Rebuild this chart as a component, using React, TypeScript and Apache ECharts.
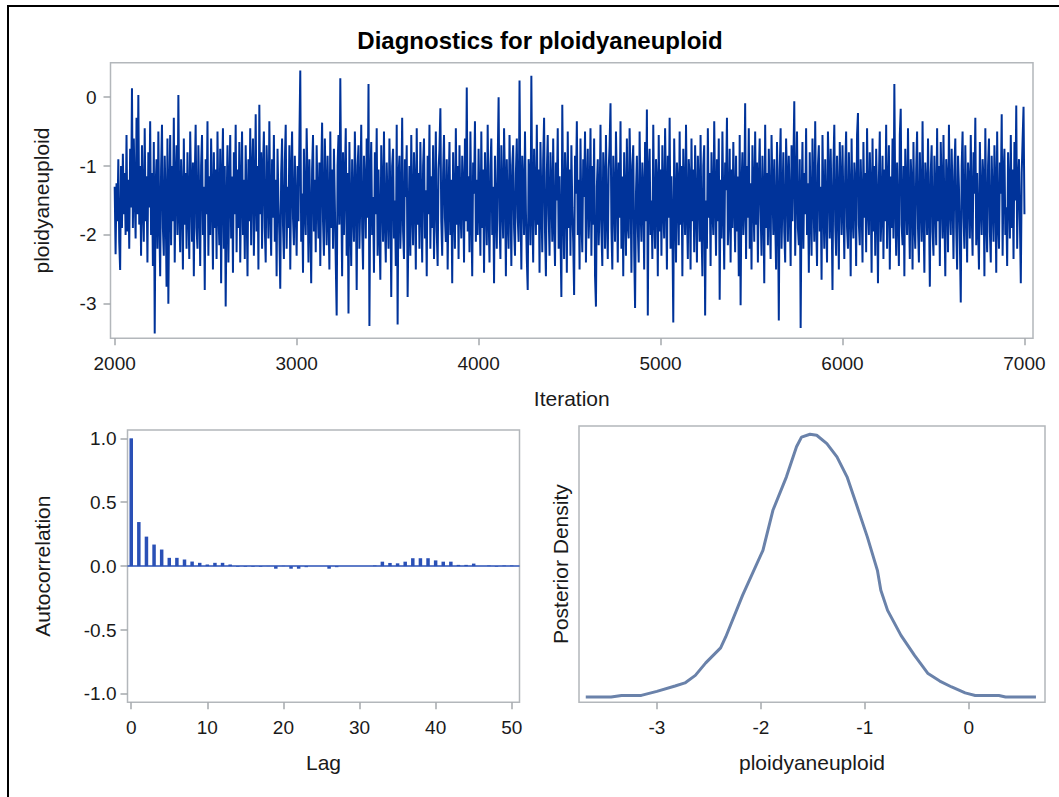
import React, { useEffect, useRef } from "react";
import * as echarts from "echarts";

// ---- text ----
const TITLE = "Diagnostics for ploidyaneuploid";
const PARAM = "ploidyaneuploid";

// ---- trace: one value every ITER_STEP iterations starting at ITER_START (20 per row = 100 iterations) ----
const ITER_START = 2000;
const ITER_STEP = 5;
const traceValues = [
  -1.3, -2.28, -1.25, -1.8, -0.9, -2.1, -2.51, -1.0, -1.9, -0.82, -1.7, -1.1, -2.0, -0.55, -1.95, -1.2, -2.2, -0.75, -1.6, 0.13,
  -1.9, -0.6, -1.4, -2.05, -0.3, -1.7, 0.03, -1.85, -1.0, -2.3, -0.7, -1.55, -2.1, -0.45, -1.8, -1.15, -2.4, -0.8, -1.6, -0.35,
  -2.0, -1.1, -2.45, -0.65, -3.43, -1.3, -0.9, -2.2, -0.5, -1.75, -2.6, -1.05, -0.4, -1.9, -2.3, -0.85, -1.5, -2.75, -0.6, -3.0,
  -1.4, -0.55, -2.15, -1.0, -1.8, -0.3, -2.4, -1.2, -0.7, -2.0, 0.03, -1.65, -2.25, -0.9, -1.4, -2.5, -0.6, -1.85, -1.1, -2.2,
  -0.8, -1.6, -2.35, -0.5, -1.3, -2.1, -0.95, -2.6, -1.2, -0.4, -1.9, -2.2, -0.7, -1.5, -2.45, -1.0, -0.55, -2.0, -1.3, -2.8,
  -0.9, -1.7, -0.35, -2.3, -1.15, -2.0, -0.6, -1.45, -2.5, -0.8, -1.9, -1.05, -2.35, -0.5, -1.6, -2.15, -0.75, -2.7, -1.25, -0.45,
  -2.2, -1.0, -3.04, -1.6, -0.7, -2.4, -1.3, -0.55, -2.05, -1.15, -2.55, -0.8, -1.7, -0.4, -2.25, -1.05, -1.9, -0.65, -2.4, -1.35,
  -0.5, -2.0, -1.2, -2.35, -0.7, -1.55, -2.6, -0.9, -1.8, -0.45, -2.15, -1.1, -0.6, -2.3, -1.4, -0.25, -1.95, -1.0, -2.5, -0.11,
  -1.7, -0.8, -2.2, -1.05, -0.5, -1.9, -2.4, -0.7, -1.3, -2.05, -0.35, -1.6, -2.3, -0.9, -1.75, -0.55, -2.1, -1.2, -2.6, -0.75,
  -1.5, -2.0, -2.78, -1.1, -0.6, -1.85, -2.35, -0.95, -0.4, -2.2, -1.3, -1.9, -0.7, -2.5, -1.15, -0.5, -1.75, -2.15, -0.85, -1.6,
  -2.3, -1.0, -1.8, -0.65, 0.386, -2.1, -1.4, -2.55, -0.75, -1.6, -2.0, -0.45, -1.25, -2.4, -0.9, -1.7, -2.7, -1.05, -0.55, -1.95,
  -1.2, -2.25, -0.7, -1.5, -2.05, -0.95, -2.45, -1.1, -0.37, -1.8, -2.3, -0.6, -1.35, -2.15, -0.85, -1.65, -2.5, -0.5, -1.9, -1.05,
  -2.2, -0.75, -1.55, -2.4, -3.17, -1.0, -0.55, -1.85, 0.275, -1.4, -2.6, -0.8, -2.0, -1.2, -0.45, -2.3, -1.1, -3.14, -0.65, -1.7,
  -2.45, -0.9, -1.6, -2.1, -0.5, -1.35, -2.8, -1.0, -0.7, -2.2, -1.5, -0.4, -1.9, -2.5, -0.85, -1.25, -2.05, -0.6, -1.75, 0.19,
  -3.32, -1.2, -0.65, -2.0, -1.45, -2.55, -0.8, -1.7, -0.45, -2.3, -1.05, -1.9, -2.65, -0.7, -1.35, -2.1, -0.5, -1.8, -2.4, -0.95,
  -1.6, -2.2, -0.6, -1.4, -2.9, -1.0, -0.75, -2.05, -1.5, -2.45, -0.4, -3.3, -1.15, -0.85, -2.2, -1.6, -0.3, -1.95, -2.35, -0.9,
  -1.45, -0.7, -2.9, -1.8, -1.0, -2.3, -0.55, -1.6, -2.15, -0.8, -1.3, -2.5, -0.45, -1.85, -1.1, -2.2, -0.65, -1.5, -2.4, -1.0,
  -0.6, -2.05, -1.35, -2.6, -0.85, -1.7, -0.4, -2.2, -1.15, -1.9, -0.7, -2.35, -1.5, -0.5, -1.95, -2.45, -1.05, -0.75, -0.16, -1.8,
  -2.3, -1.1, -0.55, -1.75, -2.1, -0.9, -2.5, -1.4, -0.65, -2.0, -1.2, -2.7, -0.8, -1.55, -2.2, -0.45, -1.85, -1.0, -2.35, -0.7,
  -1.6, -2.05, -0.85, -1.3, -2.4, -0.6, -1.8, 0.14, -1.95, -1.15, -2.25, -0.5, -1.65, -2.6, -0.95, -1.4, -0.35, -2.1, -1.2, -2.0,
  -0.75, -1.55, -2.3, -0.5, -1.9, -1.05, -2.55, -0.8, -1.45, -2.15, -0.4, -1.7, -2.4, -1.0, -0.6, -2.0, -1.3, -2.7, -0.85, -1.6,
  -2.2, -0.95, 0.0, -1.8, -2.35, -0.7, -1.5, -2.05, -0.45, -1.25, -2.6, -0.9, -1.7, -2.2, -0.55, -1.4, -2.45, -1.0, -0.7, -1.9,
  -2.3, -1.1, -0.6, -1.75, -2.1, 0.24, -1.5, -2.5, -0.85, -1.3, -2.0, -0.5, -1.65, -2.35, -2.8, -0.9, -1.2, -2.15, 0.31, -1.6,
  -2.4, -0.75, -1.45, -2.0, -0.4, -1.85, -1.05, -2.55, -0.65, -1.5, -2.25, -0.9, -0.3, -1.95, -2.6, -1.1, -0.55, -1.7, -2.3, -0.8,
  -1.35, -2.1, -0.6, -1.8, -2.45, -0.95, -1.5, -0.45, -2.2, -1.15, -2.0, -2.9, -0.11, -1.6, -2.35, -0.8, -1.25, -2.55, -0.5, -1.9,
  -1.05, -2.3, -0.7, -1.6, -2.1, -2.87, -0.85, -1.4, -0.35, -2.0, -1.2, -2.5, -0.6, -1.75, -2.25, -0.9, -1.45, -0.5, -2.4, -1.3,
  -0.75, -2.05, -1.55, -0.45, -2.3, -1.0, -1.85, -0.6, -2.6, -3.04, -1.3, -0.9, -2.15, -1.6, -0.4, -1.95, -2.45, -0.8, -1.2, -2.2,
  -0.55, -1.7, -2.35, -1.05, -0.7, -0.09, -1.9, -2.5, -0.85, -1.45, -2.1, -0.5, -1.3, -2.4, -0.95, -1.75, -0.35, -2.2, -1.15, -2.6,
  -0.8, -1.5, -2.3, -0.6, -1.85, -2.05, -0.45, -1.25, -2.55, -1.0, -0.7, -2.2, -3.06, -1.4, -0.85, -1.9, -2.4, -0.5, -1.6, -2.1,
  -0.95, -1.35, -2.5, -0.65, -1.8, -0.18, -3.17, -1.1, -0.75, -2.0, -1.5, -2.35, -0.4, -1.7, -2.2, -0.9, -1.25, -2.6, -0.55, -1.95,
  -1.05, -2.3, -0.7, -1.6, -2.05, -0.45, -1.4, -2.5, -0.85, -1.75, -0.3, -2.2, -1.15, -1.9, -3.27, -0.6, -1.5, -2.4, -0.95, -1.3,
  -2.15, -0.5, -1.85, -1.0, -2.6, -0.75, -1.45, -2.0, -0.4, -1.65, -2.35, -0.9, -1.2, -2.5, -0.6, -1.8, -1.05, -2.25, -0.7, -1.55,
  -2.4, -0.85, -1.3, -2.1, -0.55, -1.9, -2.6, -1.0, -0.7, -3.17, -1.5, -2.2, -0.45, -1.75, -1.1, -2.45, -0.8, -1.6, -2.0, -0.35,
  -1.45, -2.3, -0.9, -1.8, -0.6, -2.94, -1.2, -2.05, -0.5, -1.55, -2.5, -0.95, -1.35, -0.3, -2.15, -1.7, -0.75, -2.4, -1.05, -1.9,
  -0.65, -1.5, -2.25, -0.85, -1.95, -1.15, -2.6, -0.55, -3.02, -1.3, -0.8, -2.0, -1.6, -0.09, -2.35, -1.0, -1.75, -0.45, -2.2, -1.25,
  -2.5, -0.7, -1.4, -2.1, -0.5, -1.85, -0.95, -2.4, -1.2, -0.6, -1.65, -2.3, -0.85, -1.5, -2.7, -0.4, -1.9, -1.1, -2.15, -0.75,
  -1.6, -2.35, -0.55, -1.3, -2.0, -0.9, -1.75, -2.5, -0.65, -1.45, -3.24, -1.05, -0.45, -2.2, -1.5, -0.8, -1.95, -2.4, -0.6, -1.2,
  -2.1, -0.85, -1.55, -2.45, -0.7, -1.8, -1.0, -0.06, -2.3, -1.35, -0.5, -1.9, -2.15, -0.9, -3.35, -1.5, -0.65, -2.2, -1.1, -1.7,
  -0.45, -2.0, -1.25, -2.55, -0.8, -1.6, -2.3, -0.6, -1.4, -2.1, -0.35, -1.75, -2.45, -1.0, -0.7, -1.95, -1.3, -2.65, -0.55, -1.5,
  -2.2, -0.9, -1.7, -2.4, -0.5, -1.15, -2.05, -0.75, -1.6, -2.8, -1.0, -0.4, -1.85, -2.3, -0.85, -1.45, -2.5, -0.65, -1.3, -2.0,
  -0.7, -1.55, -2.35, -1.05, -0.5, -1.9, -2.2, -0.8, -1.4, -2.6, -0.6, -1.7, -2.05, -0.95, -1.25, -2.45, -0.55, -0.23, -1.85, -2.15,
  -0.9, -1.5, -2.4, -0.65, -1.75, -1.1, -2.25, -0.45, -1.6, -2.0, -0.8, -1.35, -2.55, -0.6, -1.95, -1.0, -2.3, -0.75, -1.45, -2.7,
  -1.2, -0.5, -2.1, -1.65, -0.85, -2.35, -1.05, -1.8, -0.4, -2.2, -1.4, -0.7, -2.5, -1.15, -1.9, -0.6, -2.05, 0.19, -1.5, -2.3,
  -0.95, -1.7, -2.45, -0.55, -0.17, -1.85, -2.15, -1.0, -2.6, -0.75, -1.4, -2.0, -0.45, -1.6, -2.35, -0.9, -1.25, -2.5, -0.65, -1.8,
  -2.2, -1.05, -0.5, -1.9, -2.4, -0.8, -1.45, -2.1, -0.35, -1.7, -2.55, -0.95, -1.3, -2.0, -0.6, -1.55, -2.75, -1.1, -0.7, -1.95,
  -2.3, -0.85, -1.5, -2.15, -0.45, -1.8, -1.0, -2.45, -0.65, -1.35, -2.05, -0.55, -1.7, -2.6, -0.9, -1.2, -2.25, -0.4, -1.6, -2.0,
  -0.75, -1.45, -2.35, -1.05, -0.6, -1.9, -2.5, -0.85, -1.3, -2.1, -2.98, -1.0, -0.5, -1.75, -2.2, -0.7, -1.55, -2.4, -0.95, -1.25,
  -2.05, -0.55, -1.65, -2.3, -0.8, -1.4, -0.3, -2.15, -1.1, -1.85, -2.5, -0.65, -1.5, -2.0, -0.9, -1.2, -2.6, -0.45, -1.75, -2.25,
  -1.0, -0.6, -1.95, -2.4, -0.85, -1.5, -2.1, -0.7, -1.3, -2.55, -0.5, -1.8, -2.2, -0.95, -1.4, -0.25, -2.3, -1.15, -0.75, -2.0,
  -1.6, -2.45, -0.8, -1.35, -2.05, -0.55, -1.9, -1.05, -2.35, -0.65, -1.5, -0.12, -2.2, -1.25, -0.9, -1.8, -2.7, -1.1, -0.6, -0.14,
  -1.7,
];
const iterTicks = [2000, 3000, 4000, 5000, 6000, 7000];
const traceTicks = [-3, -2, -1, 0];

// ---- autocorrelation by lag ----
const acfLags = [
  0, 1, 2, 3, 4, 5, 6, 7, 8, 9, 10, 11, 12, 13, 14, 15, 16, 17, 18, 19, 20, 21, 22, 23, 24, 25,
  26, 27, 28, 29, 30, 31, 32, 33, 34, 35, 36, 37, 38, 39, 40, 41, 42, 43, 44, 45, 46, 47, 48, 49, 50,
];
const acfValues = [
  1.0, 0.345, 0.231, 0.169, 0.13, 0.065, 0.065, 0.052, 0.036, 0.026, 0.013, 0.026, 0.026, 0.013, -0.005, -0.005, -0.005,
  -0.005, 0.002, -0.02, 0.003, -0.02, -0.02, -0.008, 0.0, 0.0, -0.02, -0.008, 0.0, 0.0, 0.0, 0.0, 0.005, 0.035, 0.025,
  0.022, 0.035, 0.062, 0.062, 0.062, 0.045, 0.035, 0.035, 0.01, 0.01, 0.02, 0.0, 0.005, -0.005, 0.005, 0.005,
];
const lagTicks = [0, 10, 20, 30, 40, 50];
const acfTicks = [-1, -0.5, 0, 0.5, 1];

// ---- posterior density (kernel estimate) ----
const densityX = [
  -3.684, -3.44, -3.34, -3.15, -3.0, -2.825, -2.73, -2.63, -2.53, -2.387, -2.338, -2.176, -1.98, -1.884, -1.754, -1.657,
  -1.609, -1.527, -1.463, -1.365, -1.268, -1.171, -1.073, -0.976, -0.879, -0.846, -0.781, -0.652, -0.522, -0.392, -0.279,
  -0.165, -0.035, 0.062, 0.289, 0.354, 0.646,
];
const densityY = [
  0.0, 0.0, 0.005, 0.005, 0.018, 0.035, 0.045, 0.069, 0.109, 0.157, 0.192, 0.325, 0.469, 0.597, 0.704, 0.8, 0.831, 0.84,
  0.837, 0.81, 0.768, 0.704, 0.608, 0.512, 0.405, 0.341, 0.277, 0.197, 0.133, 0.075, 0.051, 0.032, 0.013, 0.005, 0.005,
  0.0, 0.0,
];
const densityTicks = [-3, -2, -1, 0];

// ---- styling ----
const FONT = '"Liberation Sans", Arial, Helvetica, sans-serif';
const FRAME = "#B3B7BB";
const TICK = "#A4A8AC";
const TEXT = "#1A1A1A";
const TRACE_COLOR = "#00339A";
const ACF_COLOR = "#2A50B6";
const DENSITY_COLOR = "#6A82AA";

function valueAxis(opts: any) {
  const { ticks, min, max, gridIndex, name, nameGap, formatter, margin, showTicks = true, horizontal = false } = opts;
  const edgeAlign = horizontal ? { alignMinLabel: "center", alignMaxLabel: "center" } : {};
  return {
    type: "value",
    gridIndex,
    min,
    max,
    name,
    nameLocation: "middle",
    nameGap,
    nameMoveOverlap: false,
    nameTextStyle: { fontFamily: FONT, fontSize: 21, color: TEXT },
    axisLine: { show: false, onZero: false },
    splitLine: { show: false },
    axisTick: showTicks
      ? { show: true, customValues: ticks, length: 7, inside: false, lineStyle: { color: TICK, width: 1.5 } }
      : { show: false },
    axisLabel: showTicks
      ? {
          show: true,
          customValues: ticks,
          fontFamily: FONT,
          fontSize: 19,
          color: TEXT,
          margin,
          hideOverlap: false,
          ...edgeAlign,
          formatter: formatter || ((v: number) => String(v)),
        }
      : { show: false },
  };
}

function buildOption() {
  const traceData = traceValues.map((v, i) => [ITER_START + i * ITER_STEP, v]);
  const acfData = acfLags.map((lag, i) => [lag, acfValues[i]]);
  const densityData = densityX.map((x, i) => [x, densityY[i]]);

  const gridBase = {
    show: true,
    borderColor: FRAME,
    borderWidth: 1.5,
    backgroundColor: "transparent",
    containLabel: false,
    outerBoundsMode: "none",
  };

  return {
    animation: false,
    backgroundColor: "#ffffff",
    textStyle: { fontFamily: FONT },
    grid: [
      { ...gridBase, left: 110.5, top: 62.7, width: 922.5, height: 275.6 },
      { ...gridBase, left: 127.5, top: 430, width: 392, height: 272.3 },
      { ...gridBase, left: 579, top: 426, width: 466, height: 276.3 },
    ],
    xAxis: [
      valueAxis({ gridIndex: 0, min: 1977, max: 7047, ticks: iterTicks, name: "Iteration", nameGap: 50, margin: 16, horizontal: true }),
      valueAxis({ gridIndex: 1, min: -0.49, max: 51.02, ticks: lagTicks, name: "Lag", nameGap: 50, margin: 16, horizontal: true }),
      valueAxis({ gridIndex: 2, min: -3.749, max: 0.733, ticks: densityTicks, name: PARAM, nameGap: 50, margin: 16, horizontal: true }),
    ],
    yAxis: [
      valueAxis({ gridIndex: 0, min: -3.5, max: 0.5, ticks: traceTicks, name: PARAM, nameGap: 59, margin: 14 }),
      valueAxis({
        gridIndex: 1,
        min: -1.065,
        max: 1.065,
        ticks: acfTicks,
        name: "Autocorrelation",
        nameGap: 75,
        margin: 11,
        formatter: (v: number) => v.toFixed(1),
      }),
      valueAxis({
        gridIndex: 2,
        min: -0.017,
        max: 0.8665,
        ticks: [],
        name: "Posterior Density",
        nameGap: 8,
        showTicks: false,
      }),
    ],
    series: [
      {
        type: "line",
        xAxisIndex: 0,
        yAxisIndex: 0,
        data: traceData,
        showSymbol: false,
        symbol: "none",
        lineStyle: { color: TRACE_COLOR, width: 2 },
        silent: true,
        clip: true,
      },
      {
        type: "bar",
        xAxisIndex: 1,
        yAxisIndex: 1,
        data: acfData,
        barWidth: 3.5,
        itemStyle: { color: ACF_COLOR },
        silent: true,
        markLine: {
          silent: true,
          symbol: ["none", "none"],
          label: { show: false },
          lineStyle: { color: ACF_COLOR, width: 1.5, type: "solid" },
          data: [{ yAxis: 0 }],
        },
      },
      {
        type: "line",
        xAxisIndex: 2,
        yAxisIndex: 2,
        data: densityData,
        showSymbol: false,
        symbol: "none",
        lineStyle: { color: DENSITY_COLOR, width: 3 },
        silent: true,
      },
    ],
    graphic: [
      {
        type: "text",
        x: 540,
        y: 40,
        silent: true,
        style: {
          text: TITLE,
          fontFamily: FONT,
          fontSize: 24,
          fontWeight: "bold",
          fill: "#000",
          align: "center",
          verticalAlign: "middle",
        },
      },
      {
        type: "rect",
        silent: true,
        z: 100,
        shape: { x: 8, y: 6, width: 1200, height: 1000 },
        style: { fill: "none", stroke: "#000", lineWidth: 2 },
      },
    ],
  };
}

export default function App() {
  const ref = useRef<HTMLDivElement>(null);

  useEffect(() => {
    if (!ref.current) return;
    const chart = echarts.init(ref.current, null, { renderer: "svg", width: 1059, height: 797 });
    chart.setOption(buildOption() as any);
    return () => {
      chart.dispose();
    };
  }, []);

  return (
    <div
      ref={ref}
      style={{ position: "absolute", left: 0, top: 0, width: 1059, height: 797, overflow: "hidden", background: "#fff" }}
    />
  );
}
